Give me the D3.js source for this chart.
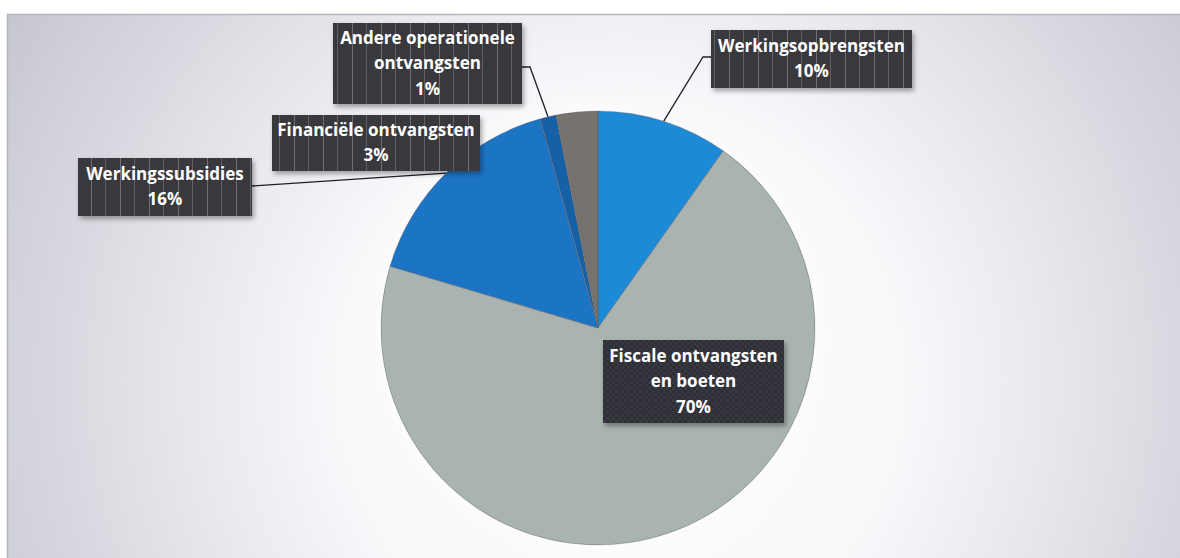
<!DOCTYPE html>
<html><head><meta charset="utf-8">
<script src="https://cdn.jsdelivr.net/npm/d3@7"></script>
<style>html,body{margin:0;padding:0;background:#fff;}svg{display:block;}</style>
</head><body>
<svg id="chart" width="1180" height="558"></svg>
<script>
// ---- data ----
const categories = ["Werkingsopbrengsten", "Fiscale ontvangsten en boeten", "Werkingssubsidies", "Andere operationele ontvangsten", "Financiële ontvangsten"];
const values = [9.8, 69.8, 16.1, 1.2, 3.1];
const labelLines = [["Werkingsopbrengsten"], ["Fiscale ontvangsten", "en boeten"], ["Werkingssubsidies"], ["Andere operationele", "ontvangsten"], ["Financiële ontvangsten"]];
const colors = ["#1d8ad6", "#a9b3b0", "#1a74c4", "#1660a6", "#76736e"];

// ---- layout ----
const W = 1180, H = 558;
const cx = 598, cy = 328, R = 217;
const boxes = [
  {x: 711, y: 30, w: 201, h: 58, leader: "left", ly: 57, stub: 8, tex: "stripe"},
  {x: 603, y: 340, w: 181, h: 83, leader: null, tex: "check"},
  {x: 78, y: 158, w: 174, h: 58, leader: "right", ly: 186, stub: 0, tex: "stripe"},
  {x: 333, y: 23, w: 189, h: 81, leader: "right", ly: 67, stub: 8, tex: "stripe"},
  {x: 272, y: 115, w: 208, h: 56, leader: null, tex: "stripe"}
];

const svg = d3.select("#chart");
const defs = svg.append("defs");

const bg = defs.append("radialGradient").attr("id", "bg")
  .attr("gradientUnits", "userSpaceOnUse").attr("cx", 620).attr("cy", 380).attr("r", 720);
bg.append("stop").attr("offset", "0%").attr("stop-color", "#ffffff");
bg.append("stop").attr("offset", "40%").attr("stop-color", "#f8f8fb");
bg.append("stop").attr("offset", "72%").attr("stop-color", "#dddee4");
bg.append("stop").attr("offset", "100%").attr("stop-color", "#c4c5cf");

const glow = defs.append("filter").attr("id", "glow").attr("x", "-20%").attr("y", "-20%").attr("width", "140%").attr("height", "140%");
glow.append("feGaussianBlur").attr("in", "SourceAlpha").attr("stdDeviation", 10).attr("result", "b");
glow.append("feFlood").attr("flood-color", "#ffffff").attr("flood-opacity", 1);
glow.append("feComposite").attr("in2", "b").attr("operator", "in").attr("result", "g");
const gm = glow.append("feMerge");
gm.append("feMergeNode").attr("in", "g");
gm.append("feMergeNode").attr("in", "SourceGraphic");

const shadow = defs.append("filter").attr("id", "shadow").attr("x", "-10%").attr("y", "-10%").attr("width", "130%").attr("height", "140%");
shadow.append("feDropShadow").attr("dx", 2).attr("dy", 3).attr("stdDeviation", 2.5).attr("flood-color", "#000").attr("flood-opacity", 0.35);

const stripe = defs.append("pattern").attr("id", "stripe").attr("patternUnits", "userSpaceOnUse")
  .attr("width", 29).attr("height", 10);
stripe.append("rect").attr("width", 29).attr("height", 10).attr("fill", "#38373d");
stripe.append("line").attr("x1", 4.5).attr("x2", 4.5).attr("y1", 0).attr("y2", 10).attr("stroke", "#9a9aa2").attr("stroke-opacity", 0.55);
stripe.append("line").attr("x1", 18.5).attr("x2", 18.5).attr("y1", 0).attr("y2", 10).attr("stroke", "#8e8e96").attr("stroke-opacity", 0.45);

const check = defs.append("pattern").attr("id", "check").attr("patternUnits", "userSpaceOnUse")
  .attr("width", 6).attr("height", 6);
check.append("rect").attr("width", 6).attr("height", 6).attr("fill", "#38373f");
check.append("rect").attr("width", 3).attr("height", 3).attr("fill", "#2f2e35");
check.append("rect").attr("x", 3).attr("y", 3).attr("width", 3).attr("height", 3).attr("fill", "#2f2e35");

// background frame
svg.append("rect").attr("x", 7).attr("y", 14).attr("width", W - 7).attr("height", H - 14).attr("fill", "url(#bg)");
svg.append("path").attr("d", `M7.5,${H} V14.5 H${W}`).attr("fill", "none").attr("stroke", "#b5b6bd").attr("stroke-width", 1.5);

// pie
const pie = d3.pie().sort(null).startAngle(0).endAngle(2 * Math.PI)(values);
const arc = d3.arc().innerRadius(0).outerRadius(R);
const edgeArc = d3.arc().innerRadius(R).outerRadius(R);

const g = svg.append("g").attr("transform", `translate(${cx},${cy})`);
const pg = g.append("g").attr("filter", "url(#glow)");
pg.selectAll("path").data(pie).join("path")
  .attr("d", arc)
  .attr("fill", (d, i) => colors[i])
  .attr("stroke", "#4d5560").attr("stroke-opacity", 0.55).attr("stroke-width", 0.8);

// leaders
const lg = svg.append("g");
pie.forEach((d, i) => {
  const b = boxes[i];
  if (!b.leader) return;
  const [ex, ey] = edgeArc.centroid(d);
  const px = cx + ex, py = cy + ey;
  const sx = b.leader === "left" ? b.x : b.x + b.w;
  const mx = b.leader === "left" ? sx - b.stub : sx + b.stub;
  lg.append("path").attr("d", `M${sx},${b.ly} L${mx},${b.ly} L${px},${py}`)
    .attr("fill", "none").attr("stroke", "#1f1f24").attr("stroke-width", 1.3);
});

// label boxes
const lb = svg.append("g");
pie.forEach((d, i) => {
  const b = boxes[i];
  const bg2 = lb.append("g");
  bg2.append("rect").attr("x", b.x).attr("y", b.y).attr("width", b.w).attr("height", b.h)
    .attr("fill", `url(#${b.tex})`).attr("filter", "url(#shadow)");
  const lines = labelLines[i].concat([Math.round(values[i]) + "%"]);
  const lh = lines.length === 3 ? 25.5 : 25;
  const top = b.y + b.h / 2 - (lines.length - 1) * lh / 2;
  lines.forEach((t, k) => {
    bg2.append("text").attr("x", b.x + b.w / 2).attr("y", top + k * lh)
      .attr("dy", "0.35em").attr("text-anchor", "middle")
      .attr("font-family", "'Open Sans', Lato, sans-serif").attr("font-weight", 700)
      .attr("font-size", 17).attr("fill", "#ffffff").text(t);
  });
});
</script>
</body></html>
